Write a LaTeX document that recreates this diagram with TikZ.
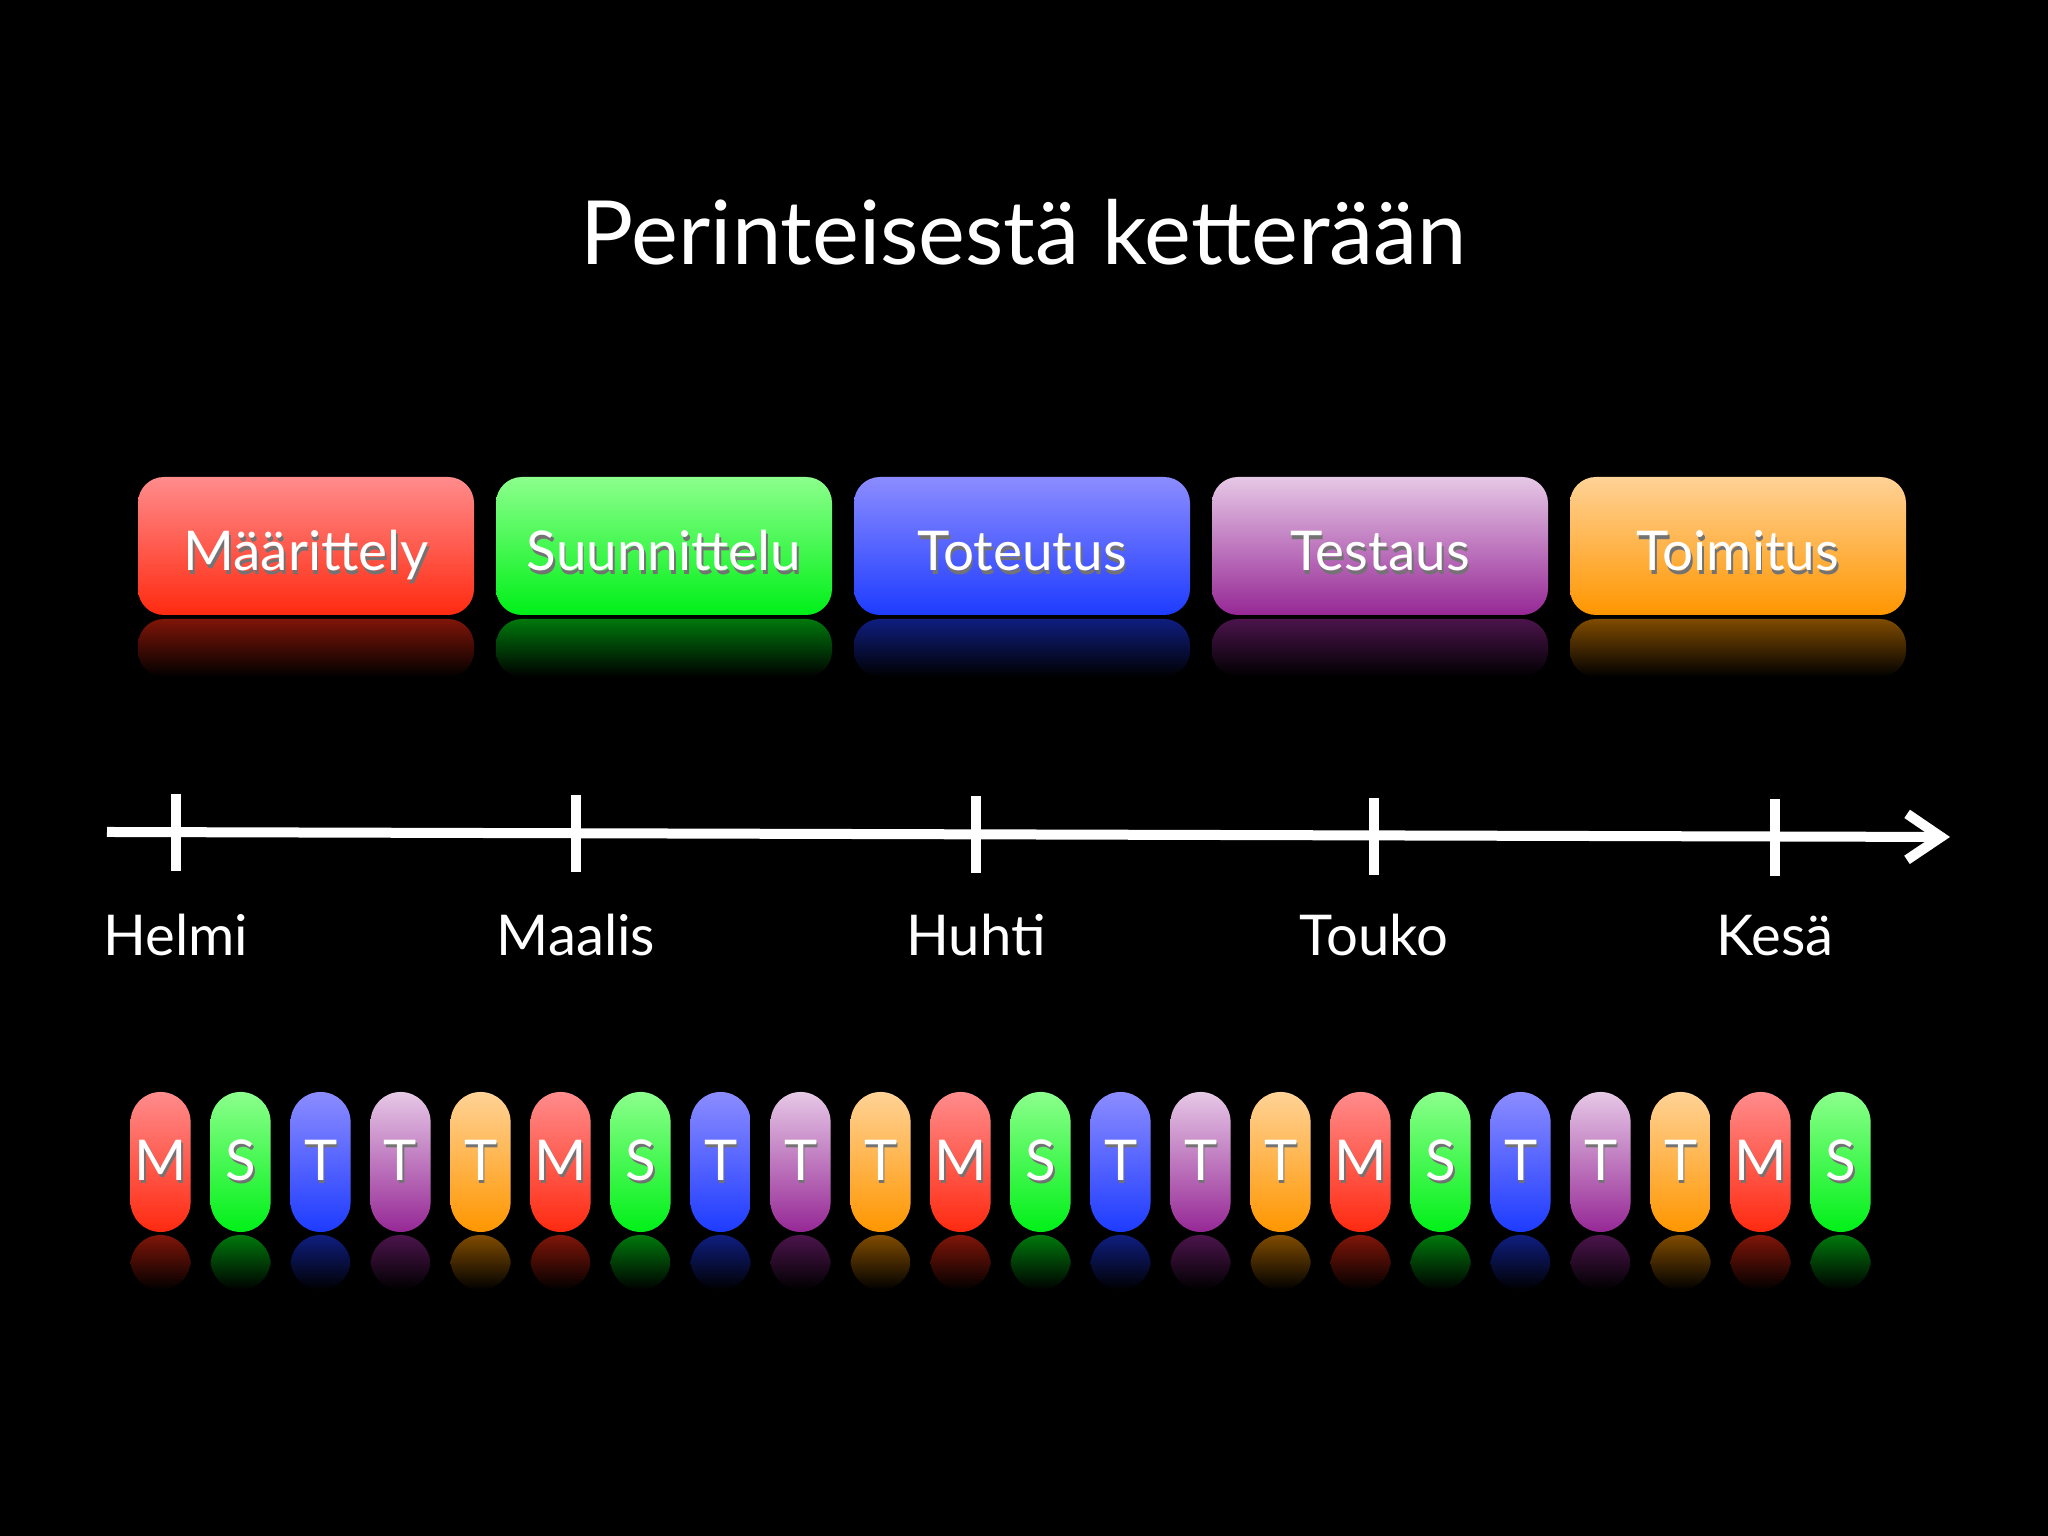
\documentclass[tikz,border=0pt]{standalone}
\usepackage{fontspec}
\setmainfont{Lato}
\usetikzlibrary{positioning,calc,arrows.meta}

\definecolor{cred}{HTML}{FF2A10}
\definecolor{credtop}{HTML}{FF8C8C}
\definecolor{cgreen}{HTML}{00F018}
\definecolor{cgreentop}{HTML}{8CFF8C}
\definecolor{cblue}{HTML}{1E3CFF}
\definecolor{cbluetop}{HTML}{8C8CFF}
\definecolor{cpurple}{HTML}{962896}
\definecolor{cpurpletop}{HTML}{E6C8E6}
\definecolor{corange}{HTML}{FF9600}
\definecolor{corangetop}{HTML}{FFD296}

% white text with a soft dark shadow
\newcommand{\shadowed}[1]{\rlap{\raisebox{-0.9pt}{\hspace{0.5pt}\color{black!55}#1}}#1}

\begin{document}
\begin{tikzpicture}[
         title/.style = {text=white, font=\fontsize{25.2}{30}\selectfont},
         phase/.style = {rounded corners=0.26cm, minimum width=3.36cm,
            minimum height=1.38cm, outer sep=0pt, inner sep=0pt,
            text height=0.5cm, text depth=0cm,
            top color=#1top, bottom color=#1, text=white,
            font=\fontsize{15.6}{18}\selectfont},
         pill/.style = {rounded corners=0.3cm, minimum width=0.6cm,
            minimum height=1.4cm, outer sep=0pt, inner sep=0pt,
            top color=#1top, bottom color=#1, text=white,
            font=\fontsize{16}{19}\selectfont},
         axis/.style = {white, line width=0.1cm},
         month/.style = {text=white, anchor=base, font=\fontsize{16}{19}\selectfont}
]
         % background
         \fill[black] (0,0) rectangle (20.48,15.36);

         \node[title, anchor=base] (title) at (10.24,12.71) {Perinteisestä ketterään};

         % phases
         \node[phase=cred]                          (maar) at (3.06,9.90) {\shadowed{Määrittely}};
         \node[phase=cgreen,  right=0.22cm of maar] (suun) {\shadowed{Suunnittelu}};
         \node[phase=cblue,   right=0.22cm of suun] (tote) {\shadowed{Toteutus}};
         \node[phase=cpurple, right=0.22cm of tote] (test) {\shadowed{Testaus}};
         \node[phase=corange, right=0.22cm of test] (toim) {\shadowed{Toimitus}};

         \foreach \n/\col in {maar/cred, suun/cgreen, tote/cblue, test/cpurple, toim/corange}
            \shade[rounded corners=0.26cm, top color=\col!50!black, middle color=\col!10!black,
               bottom color=black]
               ($(\n.south west)+(0,-0.04)$) rectangle ($(\n.south east)+(0,-0.62)$);

         % time axis
         \coordinate (a0) at (1.07,7.04);
         \coordinate (a1) at (19.50,6.99);
         \draw[axis, -{Straight Barb[length=0.34cm,width=0.46cm]}] (a0) -- (a1);

         \coordinate (t1) at (1.76,7.04);
         \coordinate (t2) at (5.76,7.03);
         \coordinate (t3) at (9.76,7.02);
         \coordinate (t4) at (13.74,7.00);
         \coordinate (t5) at (17.75,6.99);
         \foreach \t in {t1,t2,t3,t4,t5}
            \draw[axis] ($(\t)+(0,0.38)$) -- ($(\t)+(0,-0.39)$);

         \node[month] (helmi)  at (t1 |- 0,5.80) {Helmi};
         \node[month] (maalis) at (t2 |- 0,5.80) {Maalis};
         \node[month] (huhti)  at (t3 |- 0,5.80) {Huhti};
         \node[month] (touko)  at (t4 |- 0,5.80) {Touko};
         \node[month] (kesa)   at (t5 |- 0,5.80) {Kesä};

         % iterations
         \foreach \l/\col [count=\i] in {M/cred,S/cgreen,T/cblue,T/cpurple,T/corange,
               M/cred,S/cgreen,T/cblue,T/cpurple,T/corange,
               M/cred,S/cgreen,T/cblue,T/cpurple,T/corange,
               M/cred,S/cgreen,T/cblue,T/cpurple,T/corange,
               M/cred,S/cgreen}{
            \node[pill=\col] (p\i) at ({1.606+0.8*(\i-1)},3.74) {\shadowed{\l}};
            \shade[rounded corners=0.3cm, top color=\col!50!black, middle color=\col!10!black,
               bottom color=black]
               ($(p\i.south west)+(0,-0.03)$) rectangle ($(p\i.south east)+(0,-0.58)$);
         }
\end{tikzpicture}
\end{document}
